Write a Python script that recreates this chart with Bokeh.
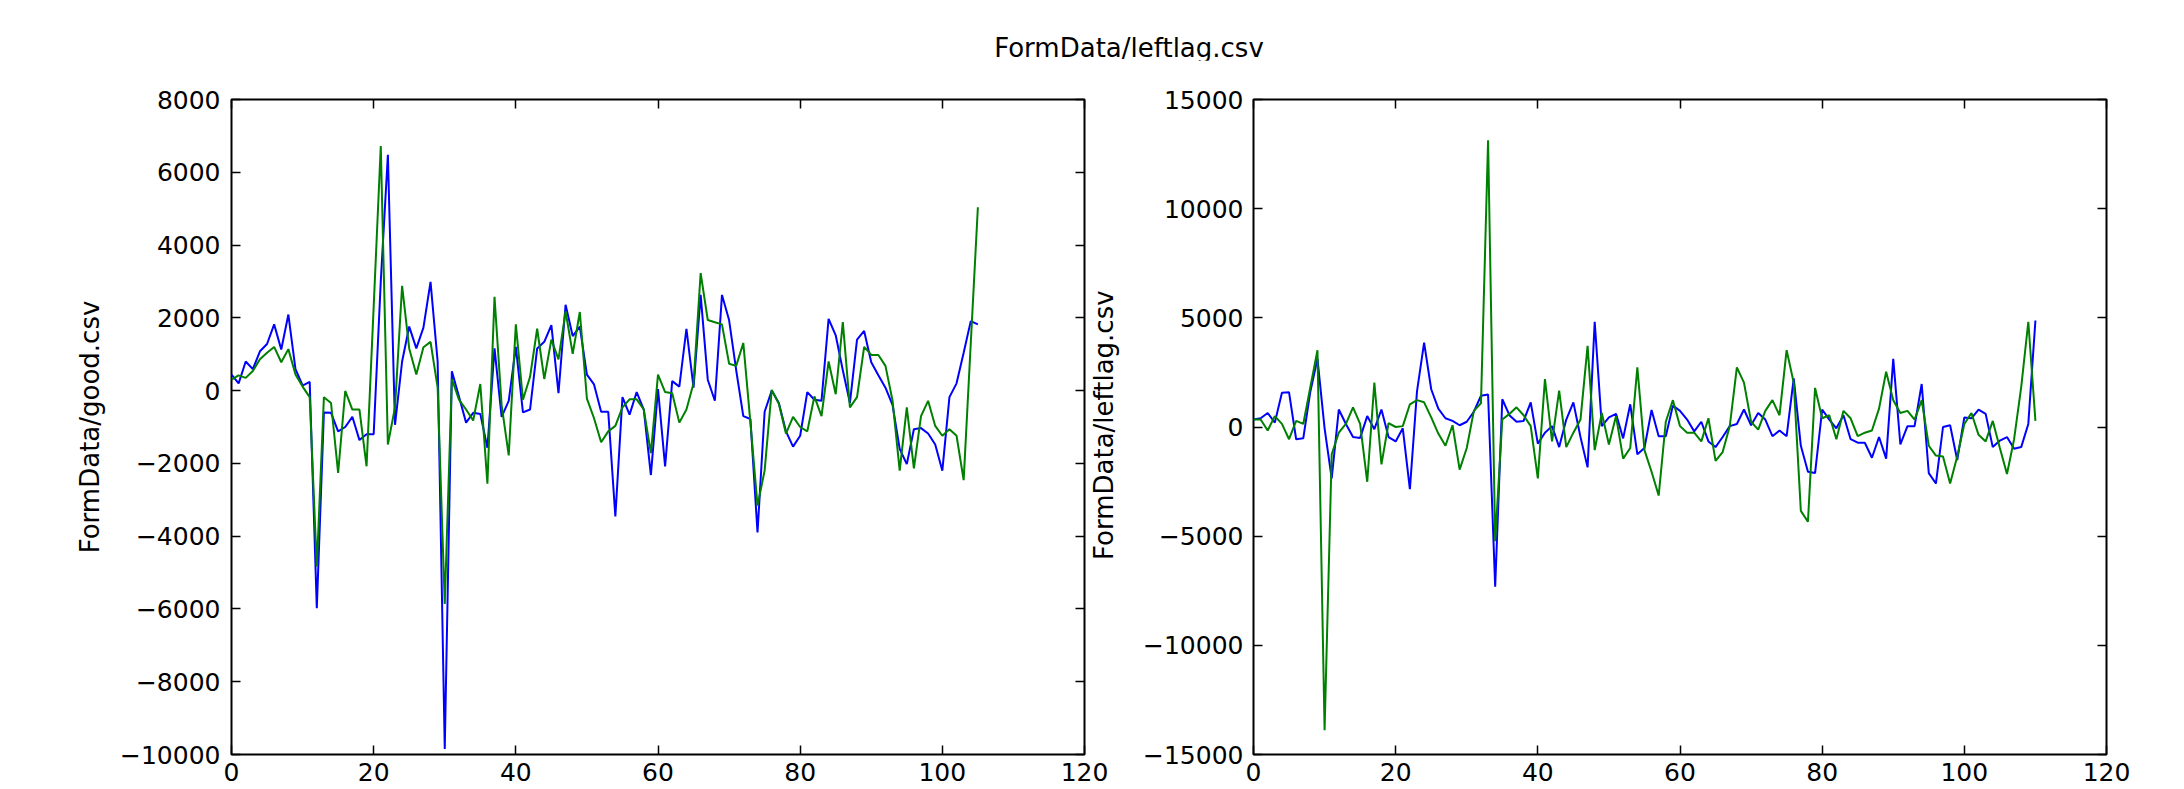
import math
from bokeh.plotting import figure
from bokeh.models import Range1d, LinearAxis, FixedTicker, Div
from bokeh.layouts import row, column
from bokeh.embed import file_html
from bokeh.resources import INLINE

# ---------------- data ----------------
title_text = "FormData/leftlag.csv"
left_ylabel = "FormData/good.csv"
right_ylabel = "FormData/leftlag.csv"

x_ticks = [0, 20, 40, 60, 80, 100, 120]
left_y_ticks = [-10000, -8000, -6000, -4000, -2000, 0, 2000, 4000, 6000, 8000]
right_y_ticks = [-15000, -10000, -5000, 0, 5000, 10000, 15000]

left_blue = [440, 200, 800, 590, 1080, 1280, 1820, 1130, 2090, 590,
             140, 240, -5980, -600, -610, -1120, -1000, -720, -1360, -1200,
             -1200, 3000, 6480, -940, 800, 1760, 1160, 1730, 2990, 800,
             -9850, 530, -160, -880, -610, -640, -1570, 1160, -720, -280,
             1200, -600, -520, 1160, 1340, 1800, -70, 2360, 1500, 1760,
             440, 170, -580, -580, -3460, -180, -660, -40, -520, -2320,
             40, -2080, 260, 110, 1700, 80, 2630, 300, -280, 2630,
             1940, 560, -700, -780, -3900, -580, 0, -340, -1120, -1540,
             -1240, -40, -250, -280, 1970, 1520, 560, -340, 1400, 1640,
             780, 420, 80, -400, -1600, -2020, -1060, -1030, -1180, -1480,
             -2200, -180, 200, 1040, 1910, 1820]

left_green = [300, 420, 350, 540, 860, 1040, 1200, 780, 1140, 440,
              110, -180, -4840, -180, -340, -2260, -10, -520, -520, -2080,
              2300, 6720, -1480, -460, 2880, 1160, 440, 1190, 1340, 80,
              -5860, 320, -250, -520, -820, 180, -2560, 2580, -400, -1780,
              1820, -250, 380, 1700, 320, 1400, 860, 2180, 1010, 2160,
              -220, -760, -1420, -1120, -970, -460, -240, -240, -520, -1720,
              440, -40, -70, -880, -520, 200, 3230, 1940, 1880, 1820,
              740, 680, 1310, -880, -3160, -2200, 20, -360, -1180, -720,
              -1000, -1120, -160, -700, 800, -100, 1880, -460, -180, 1200,
              980, 980, 680, -280, -2200, -460, -2140, -700, -280, -970,
              -1240, -1060, -1240, -2460, 1300, 5040]

right_blue = [340, 400, 640, 200, 1570, 1590, -560, -520, 1630, 3120,
              -60, -2350, 800, 140, -460, -500, 500, -100, 800, -460,
              -660, -60, -2850, 1630, 3860, 1730, 840, 400, 280, 80,
              240, 700, 1430, 1490, -7320, 1270, 540, 240, 280, 1130,
              -760, -260, 40, -920, 340, 1130, -460, -1850, 4820, 40,
              440, 600, -520, 1040, -1250, -960, 780, -420, -420, 980,
              740, 340, -200, 240, -660, -920, -460, 40, 140, 800,
              80, 640, 340, -420, -160, -420, 2230, -860, -2050, -2110,
              800, 340, -60, 540, -560, -720, -720, -1410, -460, -1450,
              3120, -800, 40, 40, 1970, -2110, -2590, 0, 80, -1510,
              440, 400, 800, 600, -920, -620, -460, -1000, -920, 140,
              4880]

right_green = [340, 340, -160, 500, 140, -560, 280, 140, 1830, 3520,
               -13890, -1250, -260, 140, 900, 140, -2510, 2030, -1710, 180,
               0, 40, 1040, 1230, 1130, 440, -300, -860, 80, -1950,
               -960, 740, 1090, 13130, -5230, 340, 600, 900, 540, 40,
               -2350, 2190, -660, 1670, -920, -260, 340, 3720, -1060, 640,
               -800, 500, -1450, -960, 2730, -1060, -2050, -3140, 240, 1230,
               40, -260, -260, -660, 400, -1550, -1150, 40, 2730, 2030,
               240, -120, 740, 1230, 540, 3520, 2030, -3840, -4340, 1790,
               400, 540, -560, 740, 400, -420, -260, -160, 840, 2530,
               1230, 640, 740, 340, 1230, -860, -1310, -1350, -2590, -1350,
               140, 640, -360, -660, 280, -960, -2150, -560, 1830, 4820,
               280]

# ---------------- styling ----------------
FONT = "DejaVu Sans"
BLUE = "#0000ff"
GREEN = "#008000"
FRAME_W, FRAME_H = 853, 655


def fmt(v):
    return ("\u2212" + str(abs(v))) if v < 0 else str(v)


def style_axis(ax, ticks, show_labels=True, standoff=11):
    ax.ticker = FixedTicker(ticks=ticks)
    ax.axis_line_color = None
    ax.major_tick_in = 9
    ax.major_tick_out = 0
    ax.major_tick_line_color = "black"
    ax.major_tick_line_width = 1.5
    ax.minor_tick_line_color = None
    ax.major_label_standoff = standoff
    ax.major_label_text_font = FONT
    ax.major_label_text_color = "black"
    if show_labels:
        ax.major_label_text_font_size = "25px"
        ax.major_label_overrides = {t: fmt(t) for t in ticks}
    else:
        ax.major_label_text_font_size = "0px"
        ax.major_label_standoff = 0
        ax.major_label_overrides = {t: " " for t in ticks}


def make_fig(y_ticks, mb_left, mb_right, xs, blue, green, y_standoff):
    p = figure(frame_width=FRAME_W, frame_height=FRAME_H,
               x_range=Range1d(x_ticks[0], x_ticks[-1]),
               y_range=Range1d(y_ticks[0], y_ticks[-1]),
               output_backend="svg", toolbar_location=None,
               min_border_left=mb_left, min_border_right=mb_right,
               min_border_top=39, min_border_bottom=35,
               background_fill_color="white", border_fill_color="white")
    p.grid.visible = False
    p.outline_line_color = "black"
    p.outline_line_width = 2
    p.outline_line_alpha = 1.0
    style_axis(p.xaxis[0], x_ticks, True, standoff=8)
    style_axis(p.yaxis[0], y_ticks, True, standoff=y_standoff)
    top = LinearAxis()
    style_axis(top, x_ticks, False)
    p.add_layout(top, "above")
    right = LinearAxis()
    style_axis(right, y_ticks, False)
    p.add_layout(right, "right")
    p.line(xs, blue, line_color=BLUE, line_width=2)
    p.line(xs, green, line_color=GREEN, line_width=2)
    return p


p1 = make_fig(left_y_ticks, 231, 53, list(range(len(left_blue))), left_blue, left_green, 11)
p2 = make_fig(right_y_ticks, 116, 55, list(range(len(right_blue))), right_blue, right_green, 10)

# left y-axis title
ax = p1.yaxis[0]
ax.axis_label = left_ylabel
ax.axis_label_text_font = FONT
ax.axis_label_text_font_size = "26px"
ax.axis_label_text_font_style = "normal"
ax.axis_label_text_color = "black"
ax.axis_label_standoff = 12

# right plot's y title sits in the gap between the two panels; the rotated
# label starts at its anchor, so the anchor is put half a label length below
# the frame centre
span = left_y_ticks[-1] - left_y_ticks[0]
mid = (left_y_ticks[0] + left_y_ticks[-1]) / 2
anchor = mid - 133 * span / FRAME_H
lab_ax = LinearAxis(ticker=FixedTicker(ticks=[anchor]),
                    major_label_overrides={anchor: right_ylabel},
                    major_label_orientation=math.pi / 2,
                    major_label_standoff=13,
                    major_label_text_font=FONT,
                    major_label_text_font_size="26px",
                    major_label_text_color="black",
                    major_tick_line_color=None,
                    minor_tick_line_color=None,
                    axis_line_color=None)
p1.add_layout(lab_ax, "right")

title = Div(text=('<div style="box-sizing: border-box; font-family: \'DejaVu Sans\'; '
                  'font-size: 26px; line-height: 30px; color: black; text-align: center; '
                  'padding-left: 100px; padding-top: 33px; width: 2158px;">'
                  + title_text + '</div>'),
            width=2158, height=60, margin=0)

layout = column(title, row(p1, p2))

open("out.html", "w").write(file_html(layout, INLINE))
